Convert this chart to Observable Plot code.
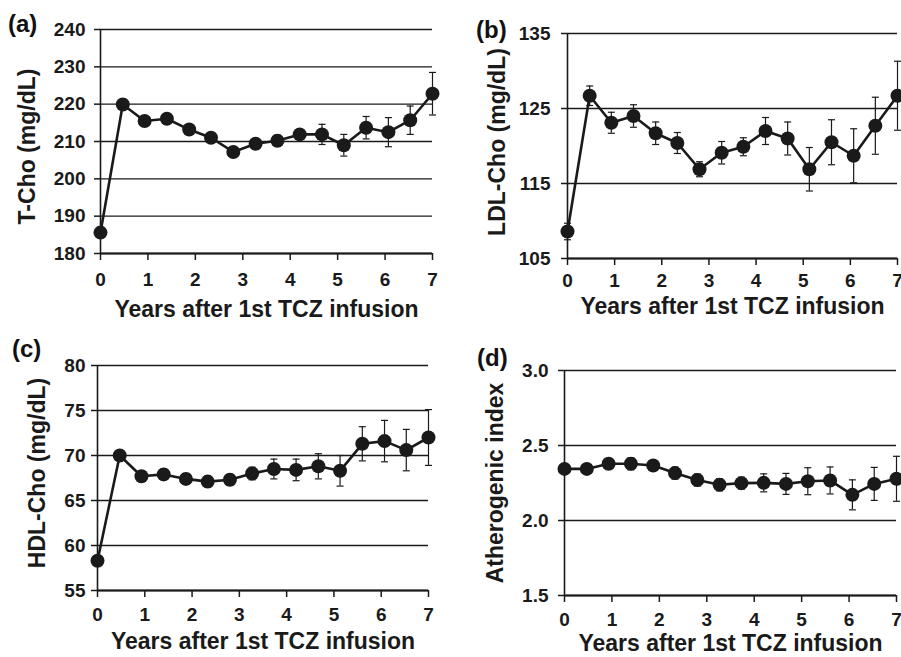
<!DOCTYPE html>
<html>
<head>
<meta charset="utf-8">
<script src="https://cdn.jsdelivr.net/npm/d3@7"></script>
<script src="https://cdn.jsdelivr.net/npm/@observablehq/plot@0.6"></script>
<style>
  html, body { margin: 0; padding: 0; background: #fff; }
  #root { position: relative; width: 901px; height: 657px; overflow: hidden; background: #fff; }
  .panel { position: absolute; }
  .panel svg { overflow: visible; }
  .tag { position: absolute; font-family: "Liberation Sans", Arial, sans-serif; font-weight: bold; font-size: 24px; color: #111; line-height: 1; }
</style>
</head>
<body>
<div id="root"></div>
<script>
// ---- data ----
const xYears = [0, 0.47, 0.93, 1.4, 1.87, 2.33, 2.8, 3.27, 3.73, 4.2, 4.67, 5.13, 5.6, 6.07, 6.53, 7.0];
const xTicks = [0, 1, 2, 3, 4, 5, 6, 7];
const xTitle = "Years after 1st TCZ infusion";

const tchoMean = [185.6, 219.9, 215.5, 216.1, 213.2, 211.0, 207.2, 209.4, 210.2, 211.9, 211.9, 209.0, 213.7, 212.5, 215.7, 222.8];
const tchoErr  = [1.0, 1.0, 1.2, 1.0, 1.2, 1.0, 1.0, 1.2, 1.5, 1.2, 2.7, 2.9, 3.0, 3.9, 3.8, 5.7];
const tchoTicks = [180, 190, 200, 210, 220, 230, 240];

const ldlMean = [108.6, 126.7, 123.1, 124.0, 121.7, 120.4, 116.9, 119.1, 119.9, 122.0, 121.0, 116.9, 120.5, 118.7, 122.7, 126.7];
const ldlErr  = [1.1, 1.3, 1.4, 1.5, 1.5, 1.4, 1.0, 1.5, 1.2, 1.8, 2.2, 2.9, 3.0, 3.6, 3.8, 4.6];
const ldlTicks = [105, 115, 125, 135];

const hdlMean = [58.3, 70.0, 67.7, 67.9, 67.4, 67.1, 67.3, 68.0, 68.5, 68.4, 68.8, 68.3, 71.3, 71.6, 70.6, 72.0];
const hdlErr  = [0.4, 0.5, 0.6, 0.6, 0.6, 0.6, 0.6, 0.7, 1.1, 1.2, 1.4, 1.7, 1.9, 2.3, 2.3, 3.1];
const hdlTicks = [55, 60, 65, 70, 75, 80];

const aiMean = [2.344, 2.344, 2.378, 2.378, 2.367, 2.316, 2.270, 2.238, 2.249, 2.251, 2.244, 2.262, 2.267, 2.171, 2.244, 2.278];
const aiErr  = [0.02, 0.02, 0.025, 0.04, 0.03, 0.04, 0.04, 0.04, 0.04, 0.06, 0.07, 0.09, 0.09, 0.10, 0.11, 0.15];
const aiTicks = [1.5, 2.0, 2.5, 3.0];

const panels = [
  {tag: "(a)", title: "T-Cho (mg/dL)", mean: tchoMean, err: tchoErr, ticks: tchoTicks, fmt: d3.format("d"),
   left: 0, top: 0, width: 450, height: 330, mL: 100, mT: 29, mB: 77, mR: 18, titleDx: -73, titleDy: 5, xTitleDy: 63,
   yLabDx: -15, xLabDy: 26, tagX: 8, tagY: 12},
  {tag: "(b)", title: "LDL-Cho (mg/dL)", mean: ldlMean, err: ldlErr, ticks: ldlTicks, fmt: d3.format("d"),
   left: 450, top: 0, width: 451, height: 330, mL: 117, mT: 33, mB: 72, mR: 4, titleDx: -70, titleDy: -4, xTitleDy: 55,
   yLabDx: -17, xLabDy: 22, tagX: 476, tagY: 18},
  {tag: "(c)", title: "HDL-Cho (mg/dL)", mean: hdlMean, err: hdlErr, ticks: hdlTicks, fmt: d3.format("d"),
   left: 0, top: 330, width: 450, height: 327, mL: 97, mT: 35, mB: 67, mR: 22, titleDx: -60, titleDy: -5, xTitleDy: 58,
   yLabDx: -12, xLabDy: 24, tagX: 12, tagY: 337},
  {tag: "(d)", title: "Atherogenic index", mean: aiMean, err: aiErr, ticks: aiTicks, fmt: d3.format(".1f"),
   left: 450, top: 330, width: 451, height: 327, mL: 114, mT: 40, mB: 62, mR: 5, titleDx: -69, titleDy: 0, xTitleDy: 55,
   yLabDx: -16, xLabDy: 24, tagX: 477, tagY: 346}
];

const capSymbol = {
  draw(ctx) { ctx.moveTo(-3.5, 0); ctx.lineTo(3.5, 0); }
};

const ink = "#1a1a1a";
const font = "'Liberation Sans', Arial, sans-serif";
const root = document.getElementById("root");

for (const p of panels) {
  const data = xYears.map((x, i) => ({x, y: p.mean[i], lo: p.mean[i] - p.err[i], hi: p.mean[i] + p.err[i]}));
  const yMin = p.ticks[0], yMax = p.ticks[p.ticks.length - 1];
  const chart = Plot.plot({
    width: p.width,
    height: p.height,
    marginLeft: p.mL,
    marginRight: p.mR,
    marginTop: p.mT,
    marginBottom: p.mB,
    style: {fontFamily: font, fontWeight: "bold", fontSize: "19px", background: "transparent", color: ink},
    x: {domain: [0, 7]},
    y: {domain: [yMin, yMax]},
    marks: [
      Plot.gridY(p.ticks, {stroke: ink, strokeOpacity: 1, strokeWidth: 1.3}),
      Plot.ruleX([0], {stroke: ink, strokeWidth: 1.6}),
      Plot.ruleY([yMin], {stroke: ink, strokeWidth: 1.8}),
      Plot.axisY({ticks: p.ticks, tickFormat: () => "", tickSize: 6, label: null, stroke: ink, strokeWidth: 1.5}),
      Plot.axisX({ticks: xTicks, tickFormat: () => "", tickSize: 7, label: null, stroke: ink, strokeWidth: 1.5}),
      Plot.text(p.ticks, {y: d => d, text: p.fmt, frameAnchor: "left", textAnchor: "end", lineAnchor: "middle",
        dx: p.yLabDx, fontSize: 19, fontWeight: "bold", fill: ink}),
      Plot.text(xTicks, {x: d => d, text: d3.format("d"), frameAnchor: "bottom", textAnchor: "middle", lineAnchor: "middle",
        dy: p.xLabDy, fontSize: 19, fontWeight: "bold", fill: ink}),
      Plot.ruleX(data, {x: "x", y1: "lo", y2: "hi", stroke: ink, strokeWidth: 1.2}),
      Plot.dot(data, {x: "x", y: "hi", symbol: capSymbol, stroke: ink, strokeWidth: 1.2, fill: "none"}),
      Plot.dot(data, {x: "x", y: "lo", symbol: capSymbol, stroke: ink, strokeWidth: 1.2, fill: "none"}),
      Plot.line(data, {x: "x", y: "y", stroke: ink, strokeWidth: 2.6}),
      Plot.dot(data, {x: "x", y: "y", r: 7, fill: ink, stroke: "none"}),
      Plot.text([p.title], {frameAnchor: "left", textAnchor: "middle", lineAnchor: "middle", rotate: -90, dx: p.titleDx, dy: p.titleDy, fontSize: 23, fontWeight: "bold", fill: ink}),
      Plot.text([xTitle], {frameAnchor: "bottom", textAnchor: "middle", dy: p.xTitleDy, fontSize: 23, fontWeight: "bold", fill: ink})
    ]
  });
  const div = document.createElement("div");
  div.className = "panel";
  div.style.left = p.left + "px";
  div.style.top = p.top + "px";
  div.appendChild(chart);
  root.appendChild(div);

  const tag = document.createElement("div");
  tag.className = "tag";
  tag.textContent = p.tag;
  tag.style.left = p.tagX + "px";
  tag.style.top = p.tagY + "px";
  root.appendChild(tag);
}
</script>
</body>
</html>
